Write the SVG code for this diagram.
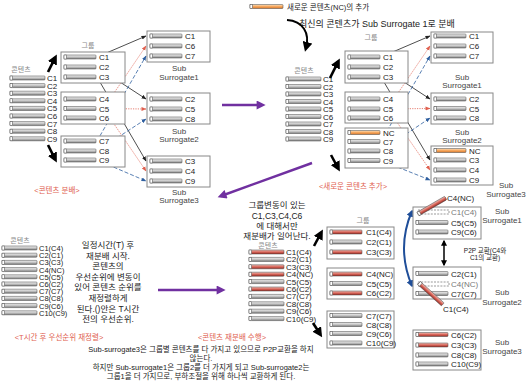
<svg xmlns="http://www.w3.org/2000/svg" xmlns:xlink="http://www.w3.org/1999/xlink" width="527" height="383" viewBox="0 0 527 383">
<style>
text{font-family:"Liberation Sans","Noto Sans CJK KR",sans-serif;fill:#222}
.lbl{font-size:8px}
.lbl3{font-size:7.5px}
.sub{font-size:8px;text-anchor:middle;fill:#444}
.sm{font-size:7px;fill:#888;text-anchor:middle}
.red{font-size:7.5px;fill:#e0604f;text-anchor:middle}
.mid{text-anchor:middle}
.box{fill:#fff;stroke:#888;stroke-width:1}
.dash{fill:none;stroke:#555;stroke-width:0.6;stroke-dasharray:2 1.2}
.cb{fill:none;stroke:#222;stroke-width:0.8;marker-end:url(#mk)}
.cr{fill:none;stroke:#e0604f;stroke-width:0.8;stroke-dasharray:1.2 1.2;marker-end:url(#mr)}
.cu{fill:none;stroke:#2f5f9f;stroke-width:0.8;stroke-dasharray:4 2;marker-end:url(#mb)}
.thick{fill:none;stroke:#000;stroke-width:2.6;marker-end:url(#mK)}
.purple{fill:none;stroke:#7030a0;stroke-width:2.4;marker-end:url(#mP)}
</style>
<defs>
<linearGradient id="gG" x1="0" y1="0" x2="0" y2="1"><stop offset="0" stop-color="#f2f2f2"/><stop offset="0.5" stop-color="#c4c4c4"/><stop offset="1" stop-color="#7c7c7c"/></linearGradient>
<linearGradient id="gR" x1="0" y1="0" x2="0" y2="1"><stop offset="0" stop-color="#f4c0b8"/><stop offset="0.5" stop-color="#d8665a"/><stop offset="1" stop-color="#9c2d25"/></linearGradient>
<linearGradient id="gO" x1="0" y1="0" x2="0" y2="1"><stop offset="0" stop-color="#fde2bf"/><stop offset="0.5" stop-color="#f5a75e"/><stop offset="1" stop-color="#d9772a"/></linearGradient>
<g id="gb32"><rect width="32" height="4" rx="0.8" fill="url(#gG)" stroke="#444" stroke-width="0.5"/><rect width="2.5" height="4" fill="#fff" stroke="#444" stroke-width="0.5"/></g>
<g id="gb35"><rect width="35" height="4" rx="0.8" fill="url(#gG)" stroke="#444" stroke-width="0.5"/><rect width="2.5" height="4" fill="#fff" stroke="#444" stroke-width="0.5"/></g>
<g id="rb32"><rect width="32" height="4" rx="0.8" fill="url(#gR)" stroke="#444" stroke-width="0.5"/><rect width="2.5" height="4" fill="#fff" stroke="#444" stroke-width="0.5"/></g>
<g id="rb35"><rect width="35" height="4" rx="0.8" fill="url(#gR)" stroke="#444" stroke-width="0.5"/><rect width="2.5" height="4" fill="#fff" stroke="#444" stroke-width="0.5"/></g>
<g id="ob32"><rect width="32" height="4" rx="0.8" fill="url(#gO)" stroke="#444" stroke-width="0.5"/><rect width="2.5" height="4" fill="#fff" stroke="#444" stroke-width="0.5"/></g>
<g id="ob33"><rect width="33" height="4" rx="0.8" fill="url(#gO)" stroke="#444" stroke-width="0.5"/><rect width="2.5" height="4" fill="#fff" stroke="#444" stroke-width="0.5"/></g>
<marker id="mk" viewBox="0 0 10 10" refX="9" refY="5" markerWidth="5" markerHeight="5" orient="auto" markerUnits="userSpaceOnUse"><path d="M0,1 L10,5 L0,9 z" fill="#222"/></marker>
<marker id="mr" viewBox="0 0 10 10" refX="9" refY="5" markerWidth="5" markerHeight="5" orient="auto" markerUnits="userSpaceOnUse"><path d="M0,1 L10,5 L0,9 z" fill="#e0604f"/></marker>
<marker id="mb" viewBox="0 0 10 10" refX="9" refY="5" markerWidth="5" markerHeight="5" orient="auto" markerUnits="userSpaceOnUse"><path d="M0,1 L10,5 L0,9 z" fill="#2f5f9f"/></marker>
<marker id="mK" viewBox="0 0 10 10" refX="6" refY="5" markerWidth="10" markerHeight="10" orient="auto" markerUnits="userSpaceOnUse"><path d="M0,0 L10,5 L0,10 z" fill="#000"/></marker>
<marker id="mP" viewBox="0 0 10 10" refX="6" refY="5" markerWidth="10" markerHeight="9" orient="auto" markerUnits="userSpaceOnUse"><path d="M0,0 L10,5 L0,10 z" fill="#7030a0"/></marker>
<marker id="mB" viewBox="0 0 10 10" refX="8" refY="5" markerWidth="7" markerHeight="7" orient="auto-start-reverse" markerUnits="userSpaceOnUse"><path d="M0,0 L10,5 L0,10 z" fill="#1f4e99"/></marker>
<marker id="mD" viewBox="0 0 10 10" refX="8" refY="5" markerWidth="6" markerHeight="6" orient="auto-start-reverse" markerUnits="userSpaceOnUse"><path d="M0,0 L10,5 L0,10 z" fill="#000"/></marker>
</defs>

<!-- ========== Quadrant 1 ========== -->
<g id="q1-contents">
<text class="sm" x="21" y="72">콘텐츠</text>
<use href="#gb35" x="10" y="76"/><text class="lbl" x="47" y="81">C1</text>
<use href="#gb35" x="10" y="83.6"/><text class="lbl" x="47" y="88.6">C2</text>
<use href="#gb35" x="10" y="91.2"/><text class="lbl" x="47" y="96.2">C3</text>
<use href="#gb35" x="10" y="98.8"/><text class="lbl" x="47" y="103.8">C4</text>
<use href="#gb35" x="10" y="106.4"/><text class="lbl" x="47" y="111.4">C5</text>
<use href="#gb35" x="10" y="114"/><text class="lbl" x="47" y="119">C6</text>
<use href="#gb35" x="10" y="121.6"/><text class="lbl" x="47" y="126.6">C7</text>
<use href="#gb35" x="10" y="129.2"/><text class="lbl" x="47" y="134.2">C8</text>
<use href="#gb35" x="10" y="136.8"/><text class="lbl" x="47" y="141.8">C9</text>
</g>
<g id="q1-connectors">
<path class="cb" d="M97,57 L146,36"/>
<path class="cb" d="M97,67 L146,99"/>
<path class="cb" d="M97,77 L146,161"/>
<path class="cr" d="M97,99 L146,171"/>
<path class="cr" d="M97,108.5 L146,109"/>
<path class="cr" d="M97,118 L146,46"/>
<path class="cu" d="M97,141 L146,56"/>
<path class="cu" d="M97,151 L146,119"/>
<path class="cu" d="M97,160 L146,181"/>
<path class="thick" d="M48,72 L55,58"/>
<path class="thick" d="M48,145 L55,159"/>
<path class="purple" d="M222,105 L262,105"/>
</g>
<g id="q1-group1">
<text class="sm" x="88" y="48">그룹</text>
<rect class="box" x="61" y="52" width="64" height="31"/>
<use href="#gb32" x="64" y="55"/><text class="lbl" x="99" y="60">C1</text>
<use href="#gb32" x="64" y="65"/><text class="lbl" x="99" y="70">C2</text>
<use href="#gb32" x="64" y="75"/><text class="lbl" x="99" y="80">C3</text>
</g>
<g id="q1-group2">
<rect class="box" x="61" y="92" width="64" height="32"/>
<use href="#gb32" x="64" y="97"/><text class="lbl" x="99" y="102">C4</text>
<use href="#gb32" x="64" y="106.5"/><text class="lbl" x="99" y="111.5">C5</text>
<use href="#gb32" x="64" y="116"/><text class="lbl" x="99" y="121">C6</text>
</g>
<g id="q1-group3">
<rect class="box" x="61" y="136" width="64" height="31"/>
<use href="#gb32" x="64" y="139"/><text class="lbl" x="99" y="144">C7</text>
<use href="#gb32" x="64" y="149"/><text class="lbl" x="99" y="154">C8</text>
<use href="#gb32" x="64" y="158"/><text class="lbl" x="99" y="163">C9</text>
</g>
<g id="q1-sub1">
<rect class="box" x="147" y="31" width="63" height="31"/>
<use href="#gb32" x="150" y="34"/><text class="lbl" x="185" y="39">C1</text>
<use href="#gb32" x="150" y="44"/><text class="lbl" x="185" y="49">C6</text>
<use href="#gb32" x="150" y="54"/><text class="lbl" x="185" y="59">C7</text>
<text class="sub" x="179" y="71">Sub</text><text class="sub" x="179" y="80">Surrogate1</text>
</g>
<g id="q1-sub2">
<rect class="box" x="147" y="93" width="63" height="31"/>
<use href="#gb32" x="150" y="97"/><text class="lbl" x="185" y="102">C2</text>
<use href="#gb32" x="150" y="107"/><text class="lbl" x="185" y="112">C5</text>
<use href="#gb32" x="150" y="117"/><text class="lbl" x="185" y="122">C8</text>
<text class="sub" x="179" y="134">Sub</text><text class="sub" x="179" y="142">Surrogate2</text>
</g>
<g id="q1-sub3">
<rect class="box" x="147" y="156" width="63" height="31"/>
<use href="#gb32" x="150" y="159"/><text class="lbl" x="185" y="164">C3</text>
<use href="#gb32" x="150" y="169"/><text class="lbl" x="185" y="174">C4</text>
<use href="#gb32" x="150" y="179"/><text class="lbl" x="185" y="184">C9</text>
<text class="sub" x="179" y="195">Sub</text><text class="sub" x="179" y="203">Surrogate3</text>
</g>
<text class="red" x="57" y="193">&lt;콘텐츠 분배&gt;</text>

<!-- ========== Quadrant 2 ========== -->
<g id="q2-legend">
<use href="#ob33" x="250" y="4.5"/>
<text x="287" y="10" style="font-size:7.5px">새로운 콘텐츠(NC)의 추가</text>
<text x="299" y="27" style="font-size:9px">최신의 콘텐츠가 Sub Surrogate 1로 분배</text>
</g>
<g id="q2-contents">
<text class="sm" x="304" y="73">콘텐츠</text>
<use href="#gb35" x="286" y="77"/><text class="lbl" x="323" y="82">C1</text>
<use href="#gb35" x="286" y="84.5"/><text class="lbl" x="323" y="89.5">C2</text>
<use href="#gb35" x="286" y="92"/><text class="lbl" x="323" y="97">C3</text>
<use href="#gb35" x="286" y="99.5"/><text class="lbl" x="323" y="104.5">C4</text>
<use href="#gb35" x="286" y="107"/><text class="lbl" x="323" y="112">C5</text>
<use href="#gb35" x="286" y="114.5"/><text class="lbl" x="323" y="119.5">C6</text>
<use href="#gb35" x="286" y="122"/><text class="lbl" x="323" y="127">C7</text>
<use href="#gb35" x="286" y="129.5"/><text class="lbl" x="323" y="134.5">C8</text>
<use href="#gb35" x="286" y="137"/><text class="lbl" x="323" y="142">C9</text>
</g>
<g id="q2-connectors">
<path class="cb" d="M381,57 L430,36"/>
<path class="cb" d="M381,67 L430,99"/>
<path class="cb" d="M381,77 L430,160"/>
<path class="cr" d="M381,99 L430,170"/>
<path class="cr" d="M381,109 L430,108.5"/>
<path class="cr" d="M381,118 L430,46"/>
<path class="cu" d="M381,141.5 L430,56"/>
<path class="cu" d="M381,151 L430,118"/>
<path class="cu" d="M381,160.5 L430,180"/>
<path d="M287,20 C303,21 310,33 306,48" fill="none" stroke="#000" stroke-width="2" marker-end="url(#mK)"/>
<path class="thick" d="M330,78 L338,62"/>
<path class="thick" d="M331,155 L338,168"/>
<path class="purple" d="M312,163 L221,196"/>
</g>
<g id="q2-group1">
<text class="sm" x="371" y="40">그룹</text>
<rect class="box" x="345" y="51" width="63" height="32"/>
<use href="#gb32" x="348" y="55"/><text class="lbl" x="383" y="60">C1</text>
<use href="#gb32" x="348" y="65"/><text class="lbl" x="383" y="70">C2</text>
<use href="#gb32" x="348" y="75"/><text class="lbl" x="383" y="80">C3</text>
</g>
<g id="q2-group2">
<rect class="box" x="345" y="92" width="63" height="31"/>
<use href="#gb32" x="348" y="97"/><text class="lbl" x="383" y="102">C4</text>
<use href="#gb32" x="348" y="107"/><text class="lbl" x="383" y="112">C5</text>
<use href="#gb32" x="348" y="116"/><text class="lbl" x="383" y="121">C6</text>
</g>
<g id="q2-group3">
<rect class="box" x="345" y="128" width="63" height="40"/>
<use href="#ob32" x="348" y="130.5"/><text class="lbl" x="383" y="135.5">NC</text>
<use href="#gb32" x="348" y="139.5"/><text class="lbl" x="383" y="144.5">C7</text>
<use href="#gb32" x="348" y="149"/><text class="lbl" x="383" y="154">C8</text>
<use href="#gb32" x="348" y="158.5"/><text class="lbl" x="383" y="163.5">C9</text>
</g>
<g id="q2-sub1">
<rect class="box" x="431" y="32" width="62" height="31"/>
<use href="#gb32" x="434" y="34"/><text class="lbl" x="469" y="39">C1</text>
<use href="#gb32" x="434" y="44"/><text class="lbl" x="469" y="49">C6</text>
<use href="#gb32" x="434" y="54"/><text class="lbl" x="469" y="59">C7</text>
<text class="sub" x="462" y="80">Sub</text><text class="sub" x="462" y="88">Surrogate1</text>
</g>
<g id="q2-sub2">
<rect class="box" x="431" y="93" width="62" height="31"/>
<use href="#gb32" x="434" y="97"/><text class="lbl" x="469" y="102">C2</text>
<use href="#gb32" x="434" y="106.5"/><text class="lbl" x="469" y="111.5">C5</text>
<use href="#gb32" x="434" y="116"/><text class="lbl" x="469" y="121">C8</text>
<text class="sub" x="462" y="135">Sub</text><text class="sub" x="462" y="143">Surrogate2</text>
</g>
<g id="q2-sub3">
<rect class="box" x="431" y="146" width="62" height="39"/>
<use href="#ob32" x="434" y="148.5"/><text class="lbl" x="469" y="153.5">NC</text>
<use href="#gb32" x="434" y="158"/><text class="lbl" x="469" y="163">C3</text>
<use href="#gb32" x="434" y="168"/><text class="lbl" x="469" y="173">C4</text>
<use href="#gb32" x="434" y="178"/><text class="lbl" x="469" y="183">C9</text>
<text class="sub" x="506" y="188">Sub</text><text class="sub" x="506" y="197">Surrogate3</text>
</g>
<text class="red" x="353" y="189">&lt;새로운 콘텐츠 추가&gt;</text>

<!-- ========== Quadrant 3 ========== -->
<g id="q3-contents">
<text class="sm" x="20" y="243">콘텐츠</text>
<use href="#gb35" x="2" y="246"/><text class="lbl3" x="39" y="251">C1(C4)</text>
<use href="#gb35" x="2" y="253.2"/><text class="lbl3" x="39" y="258.2">C2(C1)</text>
<use href="#gb35" x="2" y="260.4"/><text class="lbl3" x="39" y="265.4">C3(C3)</text>
<use href="#gb35" x="2" y="267.6"/><text class="lbl3" x="39" y="272.6">C4(NC)</text>
<use href="#gb35" x="2" y="274.8"/><text class="lbl3" x="39" y="279.8">C5(C5)</text>
<use href="#gb35" x="2" y="282"/><text class="lbl3" x="39" y="287">C6(C2)</text>
<use href="#gb35" x="2" y="289.2"/><text class="lbl3" x="39" y="294.2">C7(C7)</text>
<use href="#gb35" x="2" y="296.4"/><text class="lbl3" x="39" y="301.4">C8(C8)</text>
<use href="#gb35" x="2" y="303.6"/><text class="lbl3" x="39" y="308.6">C9(C6)</text>
<use href="#gb35" x="2" y="310.8"/><text class="lbl3" x="39" y="315.8">C10(C9)</text>
</g>
<g id="q3-note" style="font-size:8.5px">
<text class="mid" x="108" y="248">일정시간(T) 후</text>
<text class="mid" x="108" y="258.6">재분배 시작.</text>
<text class="mid" x="108" y="269.2">콘텐츠의</text>
<text class="mid" x="108" y="279.8">우선순위에 변동이</text>
<text class="mid" x="108" y="290.4">있어 콘텐츠 순위를</text>
<text class="mid" x="108" y="301">재정렬하게</text>
<text class="mid" x="108" y="311.6">된다.()안은 T시간</text>
<text class="mid" x="108" y="322.2">전의 우선순위.</text>
</g>
<text class="red" x="59" y="340">&lt;T시간 후 우선순위 재정렬&gt;</text>
<g id="q3-connectors">
<path class="purple" d="M158,290 L222,290"/>
</g>

<!-- ========== Quadrant 4 ========== -->
<g id="q4-note" style="font-size:8.5px">
<text class="mid" x="277" y="208">그룹변동이 있는</text>
<text class="mid" x="277" y="218.5">C1,C3,C4,C6</text>
<text class="mid" x="277" y="229">에 대해서만</text>
<text class="mid" x="277" y="239">재분배가 일어난다.</text>
</g>
<g id="q4-contents">
<text class="sm" x="268" y="247.5">콘텐츠</text>
<use href="#rb35" x="249" y="250"/><text class="lbl" x="286" y="255">C1(C4)</text>
<use href="#gb35" x="249" y="257.4"/><text class="lbl" x="286" y="262.4">C2(C1)</text>
<use href="#rb35" x="249" y="264.8"/><text class="lbl" x="286" y="269.8">C3(C3)</text>
<use href="#rb35" x="249" y="272.2"/><text class="lbl" x="286" y="277.2">C4(NC)</text>
<use href="#gb35" x="249" y="279.6"/><text class="lbl" x="286" y="284.6">C5(C5)</text>
<use href="#rb35" x="249" y="287"/><text class="lbl" x="286" y="292">C6(C2)</text>
<use href="#gb35" x="249" y="294.4"/><text class="lbl" x="286" y="299.4">C7(C7)</text>
<use href="#gb35" x="249" y="301.8"/><text class="lbl" x="286" y="306.8">C8(C8)</text>
<use href="#gb35" x="249" y="309.2"/><text class="lbl" x="286" y="314.2">C9(C6)</text>
<use href="#gb35" x="249" y="316.6"/><text class="lbl" x="286" y="321.6">C10(C9)</text>
</g>
<g id="q4-connectors">
<path class="thick" d="M314,246 L321,233"/>
<path class="thick" d="M313,323 L320,334"/>
<path d="M444,241 L444,265" fill="none" stroke="#000" stroke-width="1.5" marker-start="url(#mD)" marker-end="url(#mD)"/>
<path d="M412,286 Q396,248 412,211" fill="none" stroke="#1f4e99" stroke-width="2" marker-start="url(#mB)" marker-end="url(#mB)"/>
</g>
<g id="q4-group1">
<text class="sm" x="363" y="223">그룹</text>
<rect class="box" x="327" y="227" width="67" height="32"/>
<use href="#rb32" x="330" y="230"/><text class="lbl" x="366" y="235">C1(C4)</text>
<use href="#gb32" x="330" y="240"/><text class="lbl" x="366" y="245">C2(C1)</text>
<use href="#rb32" x="330" y="250"/><text class="lbl" x="366" y="255">C3(C3)</text>
</g>
<g id="q4-group2">
<rect class="box" x="327" y="268" width="67" height="31"/>
<use href="#rb32" x="330" y="272"/><text class="lbl" x="366" y="277">C4(NC)</text>
<use href="#gb32" x="330" y="281.5"/><text class="lbl" x="366" y="286.5">C5(C5)</text>
<use href="#rb32" x="330" y="291"/><text class="lbl" x="366" y="296">C6(C2)</text>
</g>
<g id="q4-group3">
<rect class="box" x="327" y="311" width="67" height="37"/>
<use href="#gb32" x="330" y="313.5"/><text class="lbl" x="366" y="318.5">C7(C7)</text>
<use href="#gb32" x="330" y="322.5"/><text class="lbl" x="366" y="327.5">C8(C8)</text>
<use href="#gb32" x="330" y="331.5"/><text class="lbl" x="366" y="336.5">C9(C6)</text>
<use href="#gb32" x="330" y="341"/><text class="lbl" x="366" y="346">C10(C9)</text>
</g>
<g id="q4-sub1">
<rect class="box" x="413" y="207" width="68" height="32"/>
<rect class="dash" x="418" y="210" width="31" height="4"/><text class="lbl" x="451" y="215" style="fill:#777">C1(C4)</text>
<use href="#gb32" x="416" y="220.5"/><text class="lbl" x="451" y="225.5">C5(C5)</text>
<use href="#gb32" x="416" y="230"/><text class="lbl" x="451" y="235">C9(C6)</text>
<use href="#rb32" transform="translate(418,214) rotate(-30)" y="-2"/>
<text class="lbl" x="447" y="201">C4(NC)</text>
<text class="sub" x="502" y="214">Sub</text><text class="sub" x="502" y="223">Surrogate1</text>
</g>
<text x="485" y="253" style="font-size:6.5px;text-anchor:middle">P2P 교환(C4와</text>
<text x="485" y="260" style="font-size:6.5px;text-anchor:middle">C1의 교환)</text>
<g id="q4-sub2">
<rect class="box" x="413" y="267" width="68" height="32"/>
<use href="#gb32" x="416" y="271.5"/><text class="lbl" x="451" y="276.5">C2(C1)</text>
<rect class="dash" x="418" y="282" width="31" height="4"/><text class="lbl" x="451" y="287" style="fill:#777">C4(NC)</text>
<use href="#gb32" x="416" y="291.5"/><text class="lbl" x="451" y="296.5">C7(C7)</text>
<use href="#rb32" transform="translate(419,283) rotate(42)" y="-2"/>
<text class="lbl" x="443" y="312">C1(C4)</text>
<text class="sub" x="502" y="295">Sub</text><text class="sub" x="502" y="305">Surrogate2</text>
</g>
<g id="q4-sub3">
<rect class="box" x="413" y="330" width="68" height="40"/>
<use href="#rb32" x="416" y="332.5"/><text class="lbl" x="451" y="337.5">C6(C2)</text>
<use href="#rb32" x="416" y="343"/><text class="lbl" x="451" y="348">C3(C3)</text>
<use href="#gb32" x="416" y="353"/><text class="lbl" x="451" y="358">C8(C8)</text>
<use href="#gb32" x="416" y="362"/><text class="lbl" x="451" y="367">C10(C9)</text>
<text class="sub" x="502" y="345">Sub</text><text class="sub" x="502" y="354">Surrogate3</text>
</g>
<text class="red" x="232" y="340">&lt;콘텐츠 재분배 수행&gt;</text>
<g id="bottom-note" style="font-size:7.5px">
<text class="mid" x="201" y="352">Sub-surrogate3은 그룹별 콘텐츠를 다 가지고 있으므로 P2P교환을 하지</text>
<text class="mid" x="201" y="361">않는다.</text>
<text class="mid" x="201" y="370">하지만 Sub-surrogate1은 그룹2를 더 가지게 되고 Sub-surrogate2는</text>
<text class="mid" x="201" y="379">그룹1을 더 가지므로, 부하조절을 위해 하나씩 교환하게 된다.</text>
</g>
</svg>
